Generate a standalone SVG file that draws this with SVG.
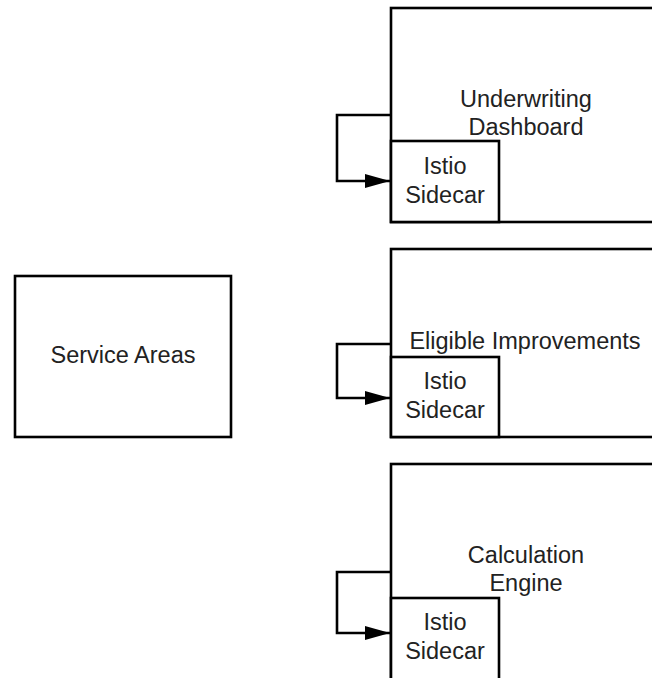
<svg xmlns="http://www.w3.org/2000/svg" width="652" height="678" viewBox="0 0 652 678">
<style>
.box{fill:#fff;stroke:#000;stroke-width:2.6}
.lbl{font-family:"Liberation Sans",Arial,sans-serif;font-size:23.5px;fill:#222;text-anchor:middle}
.conn{fill:none;stroke:#000;stroke-width:2.6}
</style>
<defs>
<marker id="arr" markerUnits="userSpaceOnUse" markerWidth="26" markerHeight="16" refX="25" refY="7" orient="auto">
<path d="M0,0 L25,7 L0,14 Z" fill="#000"/>
</marker>
</defs>
<rect width="652" height="678" fill="#fff"/>
<g id="service-areas">
<rect class="box" x="15" y="276" width="216" height="161"/>
<text class="lbl" x="123" y="363">Service Areas</text>
</g>
<g id="underwriting-dashboard">
<rect class="box" x="391" y="8" width="280" height="214"/>
<text class="lbl" x="526" y="107">Underwriting</text>
<text class="lbl" x="526" y="135">Dashboard</text>
</g>
<g id="sidecar-1">
<rect class="box" x="391" y="141" width="108" height="81"/>
<text class="lbl" x="445" y="174">Istio</text>
<text class="lbl" x="445" y="203">Sidecar</text>
</g>
<g id="eligible-improvements">
<rect class="box" x="391" y="249" width="280" height="188"/>
<text class="lbl" x="525" y="349">Eligible Improvements</text>
</g>
<g id="sidecar-2">
<rect class="box" x="391" y="357" width="108" height="80"/>
<text class="lbl" x="445" y="389">Istio</text>
<text class="lbl" x="445" y="418">Sidecar</text>
</g>
<g id="calculation-engine">
<rect class="box" x="391" y="464" width="280" height="230"/>
<text class="lbl" x="526" y="563">Calculation</text>
<text class="lbl" x="526" y="591">Engine</text>
</g>
<g id="sidecar-3">
<rect class="box" x="391" y="598" width="108" height="96"/>
<text class="lbl" x="445" y="630">Istio</text>
<text class="lbl" x="445" y="659">Sidecar</text>
</g>
<g id="connectors">
<path class="conn" d="M391,115 H337 V181 H390" marker-end="url(#arr)"/>
<path class="conn" d="M391,344 H337 V398 H390" marker-end="url(#arr)"/>
<path class="conn" d="M391,572 H337 V633 H390" marker-end="url(#arr)"/>
</g>
</svg>
